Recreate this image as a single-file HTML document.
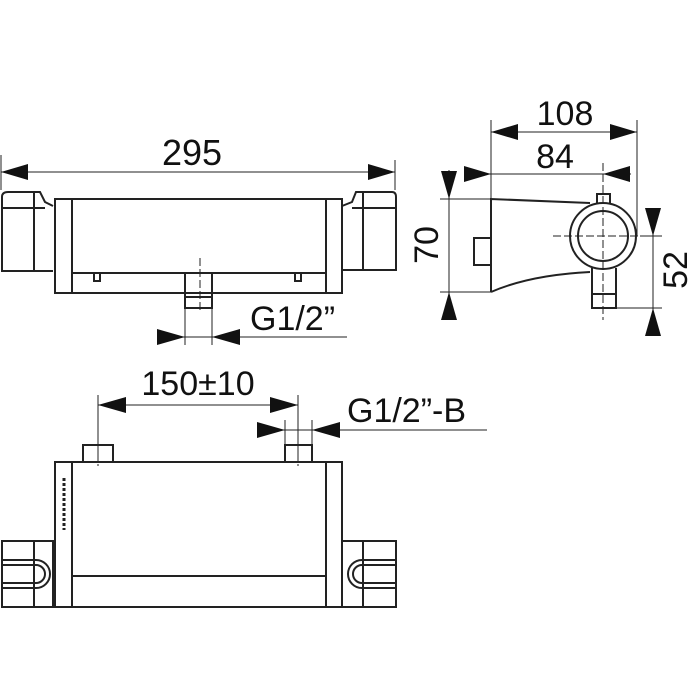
<!DOCTYPE html>
<html><head><meta charset="utf-8"><style>
html,body{margin:0;padding:0;background:#fff;}
svg{display:block;}
text{font-family:"Liberation Sans",Arial,sans-serif;fill:#111;}
</style></head><body>
<svg width="700" height="700" viewBox="0 0 700 700" xmlns="http://www.w3.org/2000/svg">
<g fill="none" stroke="#222" stroke-width="1">
<!-- 295 dimension -->
<line x1="1" y1="155" x2="1" y2="190"/><line x1="395" y1="160" x2="395" y2="190"/>
<line x1="1" y1="172" x2="395" y2="172"/>
</g>
<g fill="#111">
<polygon points="1,172 28,164 28,180"/><polygon points="395,172 368,164 368,180"/>
</g>
<text x="192" y="165" font-size="36" text-anchor="middle">295</text>

<!-- top view -->
<g fill="none" stroke="#222" stroke-width="2">
<path d="M53,271 L2,271 L2,197 Q2,192 8,192 L40,192 L45,202 L53,206"/>
<line x1="2" y1="208" x2="45" y2="208"/>
<line x1="34" y1="192" x2="34" y2="271"/>
<rect x="55" y="199" width="287" height="94"/>
<line x1="72" y1="199" x2="72" y2="293"/><line x1="326" y1="199" x2="326" y2="293"/>
<line x1="72" y1="273" x2="185" y2="273"/><line x1="212" y1="273" x2="326" y2="273"/>
<path d="M342,206 L352,202 L356,192 L392,192 Q396,192 396,197 L396,270 L342,270"/>
<line x1="352" y1="208" x2="396" y2="208"/>
<line x1="363" y1="192" x2="363" y2="270"/>
<rect x="185" y="273" width="27" height="35"/>
<line x1="185" y1="297" x2="212" y2="297"/>
<path d="M94,273 v8 h6 v-8"/><path d="M295,273 v8 h6 v-8"/>
</g>
<g fill="none" stroke="#222" stroke-width="1">
<line x1="200" y1="258" x2="200" y2="312" stroke-dasharray="8,3"/>
<line x1="185" y1="308" x2="185" y2="345"/><line x1="212" y1="308" x2="212" y2="345"/>
<line x1="157" y1="337" x2="347" y2="337"/>
</g>
<g fill="#111">
<polygon points="185,337 157,329 157,345"/><polygon points="212,337 240,329 240,345"/>
</g>
<text x="250" y="330" font-size="34">G1/2”</text>

<!-- side view -->
<g fill="none" stroke="#222" stroke-width="1">
<line x1="491" y1="120" x2="491" y2="199"/><line x1="637" y1="120" x2="637" y2="236"/>
<line x1="491" y1="132" x2="637" y2="132"/>
<line x1="465" y1="174" x2="631" y2="174"/>
<line x1="603" y1="163" x2="603" y2="320" stroke-dasharray="8,3"/>
<line x1="553" y1="236" x2="640" y2="236" stroke-dasharray="8,3"/>
<line x1="640" y1="236" x2="662" y2="236"/>
<line x1="440" y1="199" x2="491" y2="199"/><line x1="440" y1="292" x2="491" y2="292"/>
<line x1="449" y1="170" x2="449" y2="320"/>
<line x1="616" y1="308" x2="662" y2="308"/>
<line x1="653" y1="208" x2="653" y2="335"/>
</g>
<g fill="#111">
<polygon points="491,132 518,124 518,140"/><polygon points="637,132 610,124 610,140"/>
<polygon points="491,174 464,166 464,182"/><polygon points="603,174 630,166 630,182"/>
<polygon points="449,199 441,171 457,171"/><polygon points="449,292 441,320 457,320"/>
<polygon points="653,236 645,208 661,208"/><polygon points="653,308 645,336 661,336"/>
</g>
<text x="565" y="125" font-size="34" text-anchor="middle">108</text>
<text x="555" y="168" font-size="34" text-anchor="middle">84</text>
<text transform="translate(438,245) rotate(-90)" font-size="34" text-anchor="middle">70</text>
<text transform="translate(687,270) rotate(-90)" font-size="34" text-anchor="middle">52</text>
<g fill="none" stroke="#222" stroke-width="2">
<path d="M491,292 L491,199 L590,203"/>
<path d="M491,292 Q530,275 590,272"/>
<rect x="474" y="238" width="17" height="27"/>
<circle cx="603" cy="236" r="33"/>
<circle cx="603" cy="236" r="25"/>
<path d="M597,203 v-9 h13 v9"/>
<path d="M592,268 v40 h24 v-40"/>
<line x1="592" y1="294" x2="616" y2="294"/>
</g>

<!-- bottom view dims -->
<g fill="none" stroke="#222" stroke-width="1">
<line x1="98" y1="395" x2="98" y2="462"/><line x1="298" y1="395" x2="298" y2="462"/>
<line x1="98" y1="405" x2="298" y2="405"/>
<line x1="285" y1="420" x2="285" y2="445"/><line x1="312" y1="420" x2="312" y2="445"/>
<line x1="257" y1="430" x2="487" y2="430"/>
</g>
<g fill="#111">
<polygon points="98,405 126,397 126,413"/><polygon points="298,405 270,397 270,413"/>
<polygon points="285,430 257,422 257,438"/><polygon points="312,430 340,422 340,438"/>
</g>
<text x="198" y="395" font-size="34" text-anchor="middle">150±10</text>
<text x="347" y="422" font-size="34">G1/2”-B</text>

<!-- bottom view -->
<g fill="none" stroke="#222" stroke-width="2">
<rect x="55" y="462" width="287" height="145"/>
<line x1="72" y1="462" x2="72" y2="607"/><line x1="326" y1="462" x2="326" y2="607"/>
<line x1="72" y1="576" x2="326" y2="576"/>
<rect x="83" y="445" width="30" height="17"/>
<rect x="285" y="445" width="27" height="17"/>
<rect x="2" y="541" width="51" height="66"/>
<line x1="34" y1="541" x2="34" y2="607"/>
<path d="M2,560 H36 A14,14 0 0 1 36,588 H2"/>
<path d="M2,565 H36 A9,9 0 0 1 36,583 H2"/>
<rect x="342" y="541" width="54" height="66"/>
<line x1="363" y1="541" x2="363" y2="607"/>
<path d="M396,560 H362 A14,14 0 0 0 362,588 H396"/>
<path d="M396,565 H362 A9,9 0 0 0 362,583 H396"/>
</g>
<g stroke="#222" stroke-width="1">
<line x1="98" y1="450" x2="98" y2="466" stroke-dasharray="4,3"/>
<line x1="298" y1="450" x2="298" y2="466" stroke-dasharray="4,3"/>
<line x1="64" y1="478" x2="64" y2="530" stroke-width="3" stroke-dasharray="3,2"/>
</g>
</svg>
</body></html>
